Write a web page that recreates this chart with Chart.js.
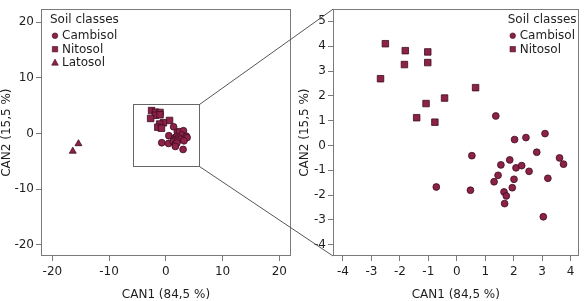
<!DOCTYPE html>
<html>
<head>
<meta charset="utf-8">
<script src="https://cdn.jsdelivr.net/npm/chart.js@4.4.1/dist/chart.umd.min.js"></script>
<style>
  html, body { margin: 0; padding: 0; background: #fff; }
  #wrap { position: relative; width: 584px; height: 301px; overflow: hidden; }
  canvas { position: absolute; top: 0; }
  #left { left: 0; }
  #right { left: 292px; }
  #links { left: 0; pointer-events: none; }
</style>
</head>
<body>
<div id="wrap">
  <canvas id="left" width="300" height="301"></canvas>
  <canvas id="right" width="292" height="301"></canvas>
  <canvas id="links" width="584" height="301"></canvas>
</div>
<script>
// canonical scores
const cambisolX = [1.37, 2.03, 2.43, 3.10, 2.81, 0.53, -0.72, 0.48, 1.55, 1.86, 2.08, 2.28,
                   2.54, 3.61, 3.75, 1.45, 1.31, 2.01, 3.20, 1.66, 1.74, 1.95, 1.68, 3.04];
const cambisolY = [1.19, 0.24, 0.32, 0.48, -0.27, -0.41, -1.67, -1.80, -0.78, -0.58, -0.90, -0.81,
                   -1.04, -0.50, -0.75, -1.20, -1.46, -1.36, -1.32, -1.87, -2.03, -1.70, -2.34, -2.87];
const nitosolX = [-2.51, -1.81, -1.02, -1.84, -1.02, -2.68, 0.66, -0.43, -1.08, -1.41, -0.77];
const nitosolY = [4.10, 3.82, 3.77, 3.26, 3.34, 2.69, 2.33, 1.91, 1.69, 1.12, 0.94];
const latosolX = [-16.4, -15.4];
const latosolY = [-3.19, -1.84];

const leftTicks = [-20, -10, 0, 10, 20];
const rightXTicks = [-4, -3, -2, -1, 0, 1, 2, 3, 4];
const rightYTicks = [-4, -3, -2, -1, 0, 1, 2, 3, 4, 5];

// zoomed region shown on the left panel
const zoomX = [-5.8, 5.8];
const zoomY = [-5.9, 5.24];

const FILL = '#8c2248';
const EDGE = '#3d0d20';
const FRAME = '#7a7a7a';
const TEXT = '#1e1e1e';
const FONT = 'DejaVu Sans';

function pts(xs, ys) {
  return xs.map(function (x, i) { return { x: x, y: ys[i] }; });
}

function mkSet(label, xs, ys, style, r) {
  return {
    label: label,
    data: pts(xs, ys),
    pointStyle: style,
    pointRadius: r,
    pointHoverRadius: r,
    backgroundColor: FILL,
    borderColor: EDGE,
    borderWidth: 0.8,
    showLine: false
  };
}

function fixTicks(arr) {
  return function (scale) {
    scale.ticks = arr.map(function (v) { return { value: v }; });
  };
}

function drawMarker(ctx, style, x, y, r) {
  ctx.beginPath();
  if (style === 'circle') {
    ctx.arc(x, y, r, 0, Math.PI * 2);
  } else if (style === 'rect') {
    ctx.rect(x - r, y - r, 2 * r, 2 * r);
  } else {
    ctx.moveTo(x, y - r * 1.1);
    ctx.lineTo(x + r, y + r * 0.75);
    ctx.lineTo(x - r, y + r * 0.75);
    ctx.closePath();
  }
  ctx.fillStyle = FILL;
  ctx.fill();
  ctx.strokeStyle = EDGE;
  ctx.lineWidth = 0.6;
  ctx.stroke();
}

// frame + optional zoom box + legend
const decor = {
  id: 'decor',
  afterDraw: function (chart, args, opts) {
    const ctx = chart.ctx;
    const a = chart.chartArea;
    ctx.save();
    ctx.strokeStyle = FRAME;
    ctx.lineWidth = 1;
    ctx.strokeRect(Math.round(a.left) + 0.5, Math.round(a.top) + 0.5,
                   Math.round(a.right - a.left) - 1, Math.round(a.bottom - a.top) - 1);

    if (opts.box) {
      const xs = chart.scales.x, ys = chart.scales.y;
      const x0 = xs.getPixelForValue(zoomX[0]), x1 = xs.getPixelForValue(zoomX[1]);
      const y0 = ys.getPixelForValue(zoomY[1]), y1 = ys.getPixelForValue(zoomY[0]);
      ctx.strokeStyle = '#666';
      ctx.strokeRect(Math.round(x0) + 0.5, Math.round(y0) + 0.5, Math.round(x1 - x0), Math.round(y1 - y0));
    }

    // legend
    ctx.font = '12px "' + FONT + '"';
    ctx.fillStyle = TEXT;
    ctx.textBaseline = 'middle';
    const title = 'Soil classes';
    const tw = ctx.measureText(title).width;
    const x0 = opts.side === 'right' ? a.right - 2 - tw : a.left + 9;
    const top = a.top;
    ctx.textAlign = 'left';
    ctx.fillText(title, x0, top + 11);
    chart.data.datasets.forEach(function (ds, i) {
      const y = top + 26.5 + i * 13.5;
      const r = ds.pointStyle === 'circle' ? 2.8 : (ds.pointStyle === 'rect' ? 2.7 : 3.3);
      drawMarker(ctx, ds.pointStyle, x0 + 5, y, r);
      ctx.fillStyle = TEXT;
      ctx.fillText(ds.label, x0 + 12, y + 0.5);
    });
    ctx.restore();
  }
};

function axis(ticks, min, max, titleText, titlePad, fitFn, isY) {
  return {
    type: 'linear',
    min: min,
    max: max,
    afterBuildTicks: fixTicks(ticks),
    afterFit: fitFn,
    grid: { drawOnChartArea: false, drawTicks: true, tickLength: 5, color: FRAME, tickWidth: 1 },
    border: { display: false },
    ticks: {
      color: TEXT,
      font: { family: FONT, size: 12 },
      padding: isY ? 2 : 4,
      maxRotation: 0,
      autoSkip: false
    },
    title: {
      display: true,
      text: titleText,
      color: TEXT,
      font: { family: FONT, size: 12, lineHeight: isY ? 1.2 : 1 },
      padding: titlePad
    }
  };
}

const leftChart = new Chart(document.getElementById('left'), {
  type: 'scatter',
  data: {
    datasets: [
      mkSet('Cambisol', cambisolX, cambisolY, 'circle', 3.4),
      mkSet('Nitosol', nitosolX, nitosolY, 'rect', 4.6),
      mkSet('Latosol', latosolX, latosolY, 'triangle', 4.0)
    ]
  },
  options: {
    responsive: false,
    animation: false,
    layout: { padding: { top: 6, right: 9, left: 0, bottom: 0 } },
    plugins: { legend: { display: false }, tooltip: { enabled: false }, decor: { side: 'left', box: true } },
    scales: {
      x: axis(leftTicks, -22, 22.06, 'CAN1 (84,5 %)', { top: 0, bottom: 0 },
              function (s) { s.height = 45; }, false),
      y: axis(leftTicks, -22, 22.3, 'CAN2 (15,5 %)', { top: 0, bottom: 0 },
              function (s) { s.width = 41; }, true)
    }
  },
  plugins: [decor]
});

const rightChart = new Chart(document.getElementById('right'), {
  type: 'scatter',
  data: {
    datasets: [
      mkSet('Cambisol', cambisolX, cambisolY, 'circle', 3.4),
      mkSet('Nitosol', nitosolX, nitosolY, 'rect', 4.6)
    ]
  },
  options: {
    responsive: false,
    animation: false,
    layout: { padding: { top: 6, right: 5, left: 0, bottom: 0 } },
    plugins: { legend: { display: false }, tooltip: { enabled: false }, decor: { side: 'right', box: false } },
    scales: {
      x: axis(rightXTicks, -4.35, 4.28, 'CAN1 (84,5 %)', { top: 0, bottom: 0 },
              function (s) { s.height = 45; }, false),
      y: axis(rightYTicks, -4.45, 5.49, 'CAN2 (15,5 %)', { top: 6, bottom: 0 },
              function (s) { s.width = 41; }, true)
    }
  },
  plugins: [decor]
});

// lines joining the zoom box to the right panel
(function () {
  const ctx = document.getElementById('links').getContext('2d');
  const offR = 292;
  const bx = Math.round(leftChart.scales.x.getPixelForValue(zoomX[1])) + 0.5;
  const byTop = Math.round(leftChart.scales.y.getPixelForValue(zoomY[1])) + 0.5;
  const byBot = Math.round(leftChart.scales.y.getPixelForValue(zoomY[0])) + 0.5;
  const a = rightChart.chartArea;
  ctx.strokeStyle = '#555';
  ctx.lineWidth = 1;
  ctx.beginPath();
  ctx.moveTo(bx, byTop);
  ctx.lineTo(offR + a.left, a.top);
  ctx.moveTo(bx, byBot);
  ctx.lineTo(offR + a.left, a.bottom);
  ctx.stroke();
})();
</script>
</body>
</html>
